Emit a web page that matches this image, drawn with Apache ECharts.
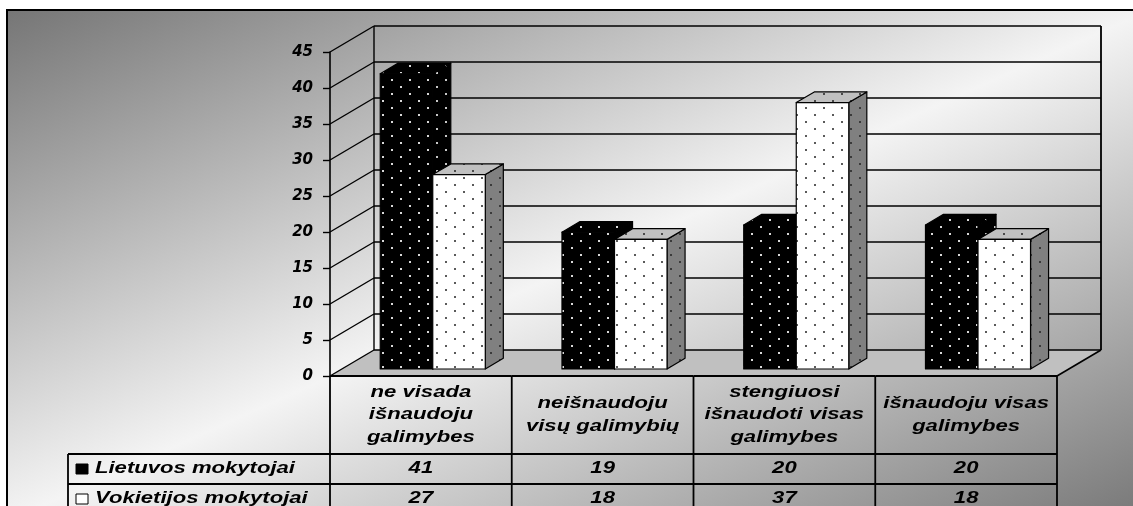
<!DOCTYPE html>
<html>
<head>
<meta charset="utf-8">
<script src="https://cdn.jsdelivr.net/npm/echarts@6/dist/echarts.min.js"></script>
<style>
  html, body { margin: 0; padding: 0; background: #fff; overflow: hidden; }
  #frame {
    position: absolute; left: 6px; top: 9px; width: 1140px; height: 510px;
    border: 2px solid #000;
    background: linear-gradient(to bottom right, #767676 0%, #f4f4f4 50%, #767676 100%);
  }
  #chart { position: absolute; left: 0; top: 0; width: 1133px; height: 506px; }
</style>
</head>
<body>
<div id="frame"></div>
<div id="chart"></div>
<script>
// ---- data ----
const categories = [
  'ne visada\nišnaudoju\ngalimybes',
  'neišnaudoju\nvisų galimybių',
  'stengiuosi\nišnaudoti visas\ngalimybes',
  'išnaudoju visas\ngalimybes'
];
const seriesNames = ['Lietuvos mokytojai', 'Vokietijos mokytojai'];
const lietuvos = [41, 19, 20, 20];
const vokietijos = [27, 18, 37, 18];
const yTicks = [0, 5, 10, 15, 20, 25, 30, 35, 40, 45];

// ---- 3D look: depth vector of the plot box and where the columns sit in it ----
const DX = 44, DY = -26;
const BAR_FRONT = 0.27, BAR_BACK = 0.68;
const BAR_SHARE = 0.289;          // width of one column as a share of the category band
const HEADER_H = 78, ROW_H = 30;  // data table rows
const LABEL_X = 68;               // left edge of the table's series-name column
const TEXT_FONT = 'italic bold 16px "Liberation Sans", Arial, sans-serif';
const TEXT_STRETCH = 1.38;

// dotted fills
function dots(bg, dot) {
  const c = document.createElement('canvas');
  c.width = 18; c.height = 14;
  const g = c.getContext('2d');
  g.fillStyle = bg; g.fillRect(0, 0, 18, 14);
  g.fillStyle = dot;
  g.fillRect(4, 2, 2, 2);
  g.fillRect(13, 9, 2, 2);
  return { image: c, repeat: 'repeat' };
}
const faces = [
  { front: dots('#000000', '#d8d8d8'), top: dots('#000000', '#d8d8d8'), side: dots('#000000', '#c8c8c8') },
  { front: dots('#ffffff', '#5a5a5a'), top: dots('#c0c0c0', '#4a4a4a'), side: dots('#808080', '#3a3a3a') }
];
const legendFill = ['#000000', '#ffffff'];

function band(api) { return api.size([1, 0])[0]; }

function renderWalls(params, api) {
  const b = band(api);
  const n = categories.length;
  const xL = api.coord([0, 0])[0] - b / 2;
  const xR = api.coord([n - 1, 0])[0] + b / 2;
  const y0 = api.coord([0, 0])[1];
  const yTop = api.coord([0, yTicks[yTicks.length - 1]])[1];
  const line = (x1, y1, x2, y2, w) => ({
    type: 'line', shape: { x1, y1, x2, y2 },
    style: { stroke: '#000', lineWidth: w || 1.4 }
  });
  const children = [{
    type: 'polygon',
    shape: { points: [[xL, y0], [xR, y0], [xR + DX, y0 + DY], [xL + DX, y0 + DY]] },
    style: { fill: '#c0c0c0' }
  }];
  yTicks.forEach(v => {
    const y = api.coord([0, v])[1];
    children.push(line(xL, y, xL + DX, y + DY));
    children.push(line(xL + DX, y + DY, xR + DX, y + DY));
  });
  children.push(line(xL + DX, y0 + DY, xL + DX, yTop + DY));
  children.push(line(xR + DX, y0 + DY, xR + DX, yTop + DY, 1.8));
  children.push(line(xR, y0, xR + DX, y0 + DY, 1.6));
  return { type: 'group', children };
}

function makeBarRenderer(k) {
  return function (params, api) {
    const i = api.value(0), v = api.value(1);
    const b = band(api);
    const w = b * BAR_SHARE;
    const base = api.coord([i, 0]);
    const top = api.coord([i, v]);
    const xl = base[0] + (k === 0 ? -w : 0) + DX * BAR_FRONT;
    const xr = xl + w;
    const yb = base[1] + DY * BAR_FRONT;
    const yt = top[1] + DY * BAR_FRONT;
    const dx = DX * (BAR_BACK - BAR_FRONT), dy = DY * (BAR_BACK - BAR_FRONT);
    const edge = { stroke: '#000', lineWidth: 1.2, lineJoin: 'round' };
    return {
      type: 'group',
      children: [
        { type: 'polygon', shape: { points: [[xr, yt], [xr + dx, yt + dy], [xr + dx, yb + dy], [xr, yb]] },
          style: Object.assign({ fill: faces[k].side }, edge) },
        { type: 'polygon', shape: { points: [[xl, yt], [xr, yt], [xr + dx, yt + dy], [xl + dx, yt + dy]] },
          style: Object.assign({ fill: faces[k].top }, edge) },
        { type: 'rect', shape: { x: xl, y: yt, width: w, height: yb - yt },
          style: Object.assign({ fill: faces[k].front }, edge) }
      ]
    };
  };
}

function txt(x, y, text, align) {
  return {
    type: 'text', x, y, scaleX: TEXT_STRETCH,
    style: { text, font: TEXT_FONT, fill: '#000', align: align || 'center', verticalAlign: 'middle', lineHeight: 22.5 }
  };
}

function renderTable(params, api) {
  const i = api.value(0);
  const n = categories.length;
  const b = band(api);
  const cx = api.coord([i, 0])[0];
  const yT = api.coord([i, 0])[1];
  const cl = cx - b / 2, cr = cx + b / 2;
  const r1 = yT + HEADER_H, r2 = r1 + ROW_H, r3 = r2 + ROW_H;
  const line = (x1, y1, x2, y2) => ({
    type: 'line', shape: { x1, y1, x2, y2 }, style: { stroke: '#000', lineWidth: 1.8 }
  });
  const rows = [lietuvos, vokietijos];
  const children = [
    line(cl, yT, cr, yT),
    line(cl, r1, cr, r1),
    line(cl, r2, cr, r2),
    line(cl, yT, cl, r3 + 20),
    txt(cx, yT + HEADER_H / 2, categories[i]),
    txt(cx, r1 + ROW_H / 2, String(rows[0][i])),
    txt(cx, r2 + ROW_H / 2, String(rows[1][i]))
  ];
  if (i === n - 1) children.push(line(cr, yT, cr, r3 + 20));
  if (i === 0) {
    children.push(line(LABEL_X, r1, cl, r1));
    children.push(line(LABEL_X, r2, cl, r2));
    children.push(line(LABEL_X, r1, LABEL_X, r3 + 20));
    seriesNames.forEach((name, k) => {
      const yc = r1 + ROW_H * k + ROW_H / 2;
      children.push({
        type: 'rect', shape: { x: LABEL_X + 8, y: yc - 5, width: 12, height: 10 },
        style: { fill: legendFill[k], stroke: '#000', lineWidth: 1 }
      });
      children.push(txt(LABEL_X + 27, yc, name, 'left'));
    });
  }
  return { type: 'group', children };
}

const chart = echarts.init(document.getElementById('chart'), null, { renderer: 'canvas' });
chart.setOption({
  backgroundColor: 'transparent',
  animation: false,
  grid: { left: 330, right: 76, top: 52, bottom: 130 },
  xAxis: {
    type: 'category', data: categories, boundaryGap: true,
    axisLine: { show: false }, axisTick: { show: false }, axisLabel: { show: false }, splitLine: { show: false }
  },
  yAxis: {
    type: 'value', min: 0, max: 45, interval: 5,
    axisLine: { show: true, lineStyle: { color: '#000', width: 1.6 } },
    axisTick: { show: true, length: 7, lineStyle: { color: '#000', width: 1.4 } },
    axisLabel: {
      margin: 17, color: '#000',
      fontFamily: '"DejaVu Sans", sans-serif', fontSize: 15, fontWeight: 'bold', fontStyle: 'italic'
    },
    splitLine: { show: false }
  },
  series: [
    { type: 'custom', name: 'walls', z: 1, silent: true, clip: false, data: [[0, 0]], renderItem: renderWalls },
    { type: 'custom', name: seriesNames[0], z: 3, clip: false,
      data: lietuvos.map((v, i) => [i, v]), renderItem: makeBarRenderer(0) },
    { type: 'custom', name: seriesNames[1], z: 4, clip: false,
      data: vokietijos.map((v, i) => [i, v]), renderItem: makeBarRenderer(1) },
    { type: 'custom', name: 'table', z: 5, silent: true, clip: false,
      data: categories.map((c, i) => [i]), renderItem: renderTable }
  ]
});
</script>
</body>
</html>
